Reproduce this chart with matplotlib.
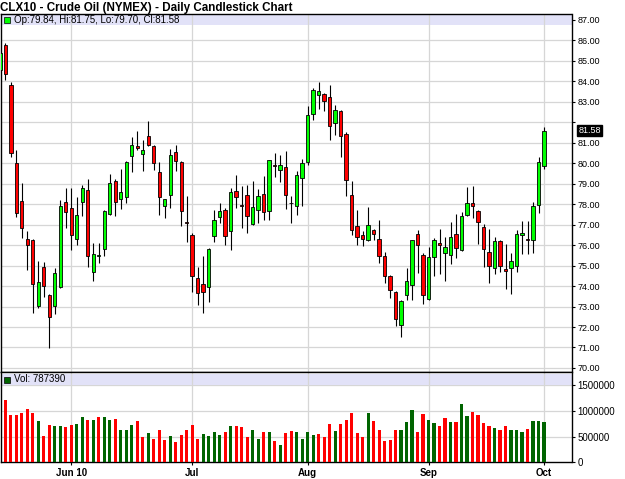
import numpy as np
import pandas as pd
import matplotlib
matplotlib.use('Agg')
import matplotlib.pyplot as plt
from matplotlib.patches import Rectangle
from matplotlib.transforms import blended_transform_factory

plt.rcParams['font.family'] = ['Liberation Sans', 'DejaVu Sans']

# trading days (NYMEX holidays removed)
dates = pd.bdate_range('2010-05-12', '2010-10-01')
dates = dates[~dates.isin(pd.to_datetime(['2010-05-31', '2010-07-05', '2010-09-06']))]

opens = [84.56, 85.78, 83.82, 80.00, 78.17, 76.29, 76.22, 73.03, 74.92, 73.55,
         73.03, 73.94, 78.09, 77.80, 76.29, 78.12, 78.66, 74.67, 75.48, 75.80,
         77.51, 79.14, 78.24, 78.34, 80.36, 80.81, 80.45, 81.33, 80.84, 79.54,
         77.91, 78.45, 80.52, 80.05, 77.10, 76.50, 74.38, 74.09, 73.97, 76.45,
         77.36, 77.72, 76.66, 78.65, 77.93, 78.45, 77.02, 77.69, 78.50, 77.67,
         79.88, 79.67, 79.83, 78.07, 77.91, 79.27, 80.03, 82.39, 83.30, 83.38,
         83.20, 81.95, 82.55, 81.42, 78.42, 76.94, 76.50, 76.22, 76.74, 76.29,
         75.47, 74.51, 73.70, 72.10, 73.57, 74.05, 76.53, 75.49, 73.36, 75.41,
         76.12, 75.60, 75.52, 76.53, 75.76, 77.46, 78.05, 77.67, 76.87, 75.65,
         74.87, 76.20, 74.82, 74.87, 75.00, 76.50, 76.27, 76.25, 77.93, 79.84]
highs = [85.50, 85.85, 83.94, 80.65, 79.02, 76.66, 76.30, 75.24, 75.16, 73.60,
         74.87, 78.21, 78.78, 78.78, 78.32, 78.91, 79.22, 76.12, 76.12, 77.70,
         79.48, 79.20, 79.71, 80.08, 81.27, 81.54, 81.10, 82.07, 80.90, 80.03,
         78.26, 80.68, 80.89, 80.10, 78.37, 76.58, 74.95, 75.44, 75.85, 77.72,
         78.05, 77.80, 78.78, 79.43, 78.86, 78.94, 79.14, 78.73, 79.38, 80.15,
         80.49, 80.40, 80.57, 78.37, 79.59, 80.20, 82.77, 83.66, 83.96, 83.42,
         83.82, 82.85, 82.60, 81.50, 79.10, 77.72, 76.66, 77.85, 76.80, 77.23,
         75.68, 74.55, 73.75, 73.30, 74.87, 76.25, 76.72, 75.60, 75.88, 76.34,
         76.78, 76.39, 77.12, 77.51, 77.59, 78.83, 78.89, 77.70, 77.03, 76.78,
         76.39, 76.25, 76.04, 75.63, 76.71, 77.15, 77.15, 78.10, 80.29, 81.75]
lows = [84.40, 84.07, 80.29, 77.39, 76.33, 74.79, 72.67, 72.92, 73.48, 70.96,
        72.62, 73.90, 76.82, 75.77, 76.01, 77.42, 74.95, 74.25, 75.11, 75.47,
        77.48, 77.42, 77.77, 78.05, 79.54, 80.62, 79.59, 80.85, 79.67, 77.47,
        77.31, 77.80, 79.59, 76.94, 76.17, 73.73, 73.08, 72.70, 73.24, 76.17,
        77.07, 76.01, 75.77, 77.80, 76.82, 76.61, 76.98, 77.07, 77.23, 77.23,
        79.34, 79.05, 77.75, 77.07, 77.47, 77.88, 79.90, 82.11, 82.64, 82.52,
        81.10, 81.38, 80.27, 78.40, 76.50, 76.01, 75.93, 76.18, 76.22, 75.14,
        74.14, 73.40, 72.05, 71.53, 73.32, 73.32, 74.62, 73.12, 73.30, 74.49,
        74.58, 74.25, 75.08, 75.39, 75.70, 77.40, 77.31, 76.06, 74.91, 74.14,
        74.59, 74.70, 73.85, 73.60, 74.66, 75.55, 75.57, 75.60, 77.56, 79.70]
closes = [85.39, 84.36, 80.49, 77.56, 76.82, 76.01, 74.09, 74.19, 74.01, 72.48,
          74.63, 77.88, 77.61, 76.50, 77.47, 78.80, 75.47, 75.57, 75.52, 77.68,
          79.02, 78.09, 78.61, 80.05, 80.89, 80.71, 80.65, 80.89, 80.00, 78.32,
          78.24, 80.40, 80.08, 77.67, 77.05, 74.49, 73.65, 73.70, 75.81, 77.23,
          77.67, 76.45, 78.57, 78.32, 77.91, 77.42, 77.83, 78.37, 77.60, 80.13,
          79.85, 79.90, 78.45, 78.05, 79.43, 80.00, 82.34, 83.55, 83.50, 83.04,
          81.82, 82.57, 81.33, 79.15, 76.74, 76.38, 76.29, 76.99, 76.55, 75.47,
          74.51, 73.81, 72.38, 73.27, 74.25, 76.22, 75.98, 73.55, 75.40, 76.25,
          75.98, 75.88, 76.39, 75.85, 77.42, 78.05, 77.91, 77.12, 75.80, 74.98,
          76.20, 75.00, 74.74, 75.23, 76.53, 76.58, 76.25, 77.88, 80.03, 81.58]
volumes = [950000, 1207000, 927000, 927000, 960000, 1025000, 960000, 796000, 502000, 731000,
           711000, 711000, 678000, 731000, 751000, 874000, 829000, 829000, 874000, 888000,
           829000, 849000, 620000, 633000, 731000, 796000, 482000, 568000, 457000, 633000,
           437000, 515000, 398000, 535000, 620000, 731000, 450000, 555000, 515000, 594000,
           535000, 587000, 711000, 711000, 692000, 496000, 620000, 443000, 594000, 594000,
           411000, 339000, 574000, 607000, 594000, 457000, 587000, 535000, 555000, 482000,
           744000, 607000, 744000, 829000, 953000, 568000, 482000, 953000, 809000, 620000,
           417000, 430000, 620000, 620000, 790000, 1005000, 587000, 940000, 829000, 764000,
           711000, 862000, 777000, 790000, 1130000, 894000, 980000, 914000, 764000, 705000,
           672000, 633000, 705000, 627000, 627000, 587000, 653000, 803000, 803000, 787390]

month_labels = ['Jun 10', 'Jul', 'Aug', 'Sep', 'Oct']
price_ticks = np.arange(70, 88)

o = np.array(opens); h = np.array(highs); l = np.array(lows); c = np.array(closes)
v = np.array(volumes)
x = np.arange(len(dates))

# first trading day of each month shown
per = dates.to_period('M')
month_pos = [x[per == p][0] for p in pd.period_range('2010-06', '2010-10', freq='M')]

GREEN = '#00ff00'
RED = '#ff0000'
VGREEN = '#006400'
GRID = '#d6d6d6'
BAND = '#e2e2f8'

fig = plt.figure(figsize=(6.25, 4.79), dpi=100)
left = 0.5 / 625
width = 571.0 / 625
ax = fig.add_axes([left, 1 - 372.3 / 479, width, 358.3 / 479])
axv = fig.add_axes([left, 1 - 462.3 / 479, width, 90 / 479])

xlim = (0.127, 104.0)

# ---------- price panel ----------
ax.set_xlim(*xlim)
ax.set_ylim(69.79, 87.27)
for yv in price_ticks:
    ax.axhline(yv, color=GRID, lw=0.9, zorder=0.2)
ax.add_patch(Rectangle((0, 0.968), 1, 0.03, transform=ax.transAxes,
                       facecolor=BAND, edgecolor='none', zorder=0.5))
for mp in month_pos:
    ax.axvline(mp, color=GRID, lw=0.9, zorder=0.6)

up = c >= o
body_col = np.where(up, GREEN, RED)
ax.vlines(x, l, h, color='black', lw=0.8, zorder=2)
ax.bar(x, np.abs(c - o), bottom=np.minimum(o, c), width=0.62,
       color=body_col, edgecolor='black', linewidth=0.6, zorder=3)

ax.yaxis.tick_right()
ax.set_yticks(price_ticks)
ax.set_yticklabels(['' if t == 82 else f'{t:.2f}' for t in price_ticks])
ax.tick_params(axis='y', direction='out', length=2.5, width=0.8, pad=2,
               labelsize=6.5, colors='black')
ax.set_xticks([])
for s in ax.spines.values():
    s.set_color('black'); s.set_linewidth(1.0)

ax.plot([0.012], [0.982], transform=ax.transAxes, marker='s', ms=4.2,
        mfc=GREEN, mec='black', mew=0.5, zorder=5, clip_on=False)
ax.text(0.024, 0.982,
        f'Op:{opens[-1]:.2f}, Hi:{highs[-1]:.2f}, Lo:{lows[-1]:.2f}, Cl:{closes[-1]:.2f}',
        transform=ax.transAxes, fontsize=7, va='center', ha='left', zorder=5)

tr = blended_transform_factory(ax.transAxes, ax.transData)
ax.text(1.012, closes[-1], f'{closes[-1]:.2f}', transform=tr, fontsize=6.5,
        color='white', va='center', ha='left',
        bbox=dict(boxstyle='square,pad=0.12', fc='black', ec='black'))

# ---------- volume panel ----------
axv.set_xlim(*xlim)
axv.set_ylim(0, 1.746e6)
for yv in [500000, 1000000, 1500000]:
    axv.axhline(yv, color=GRID, lw=0.9, zorder=0.2)
axv.add_patch(Rectangle((0, 0.859), 1, 0.122, transform=axv.transAxes,
                        facecolor=BAND, edgecolor='none', zorder=0.5))
for mp in month_pos:
    axv.axvline(mp, color=GRID, lw=0.9, zorder=0.6)

vol_up = np.r_[True, c[1:] >= c[:-1]]
axv.bar(x, v, width=0.58, color=np.where(vol_up, VGREEN, RED), zorder=3)

axv.yaxis.tick_right()
axv.set_yticks([0, 500000, 1000000, 1500000])
axv.set_yticklabels(['0', '500000', '1000000', '1500000'])
axv.tick_params(axis='y', direction='out', length=2.5, width=0.8, pad=2,
                labelsize=7, colors='black')
axv.set_xticks(month_pos)
axv.set_xticklabels(month_labels, fontsize=7, fontweight='bold')
axv.tick_params(axis='x', direction='out', length=2.5, width=0.8, pad=1.5)
for s in axv.spines.values():
    s.set_color('black'); s.set_linewidth(1.0)

axv.plot([0.012], [0.92], transform=axv.transAxes, marker='s', ms=4.2,
         mfc=VGREEN, mec='black', mew=0.5, zorder=5, clip_on=False)
axv.text(0.024, 0.92, f'Vol: {volumes[-1]}', transform=axv.transAxes,
         fontsize=7, va='center', ha='left', zorder=5)

fig.text(0.0, 1 - 7.5 / 479, 'CLX10 - Crude Oil (NYMEX) - Daily Candlestick Chart',
         fontsize=8.4, fontweight='bold', va='center', ha='left')

fig.savefig('out.png', dpi=100)
